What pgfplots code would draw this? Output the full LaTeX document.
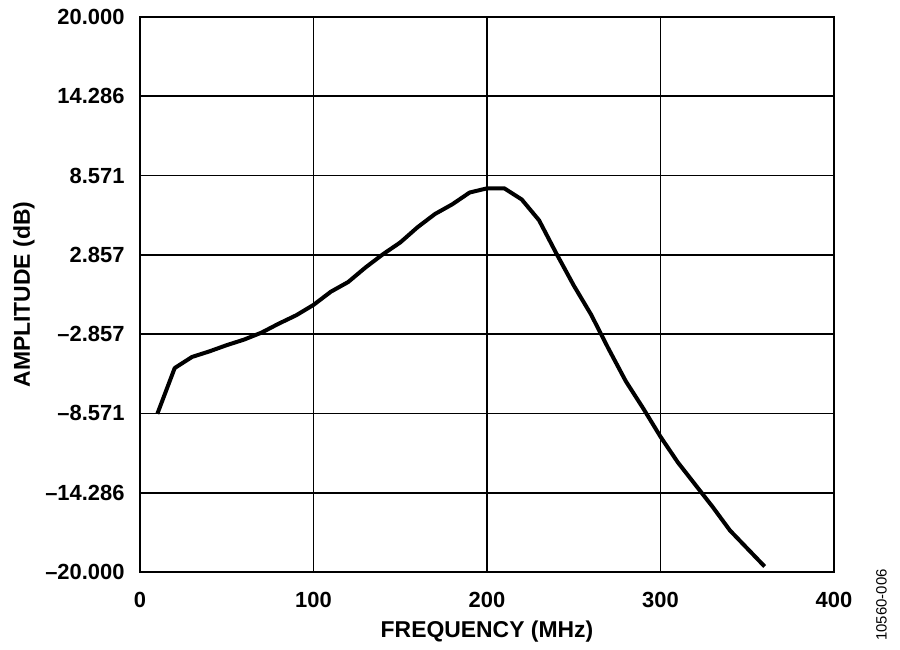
\documentclass[border=0pt]{standalone}
\usepackage{pgfplots}
\pgfplotsset{compat=1.18}
\usepackage{fontspec}
\setmainfont{Liberation Sans}
\begin{document}
\begin{tikzpicture}
\path[use as bounding box] (-140bp,-78bp) rectangle (760bp,572bp);
\begin{axis}[
  anchor=south west, at={(0,0)},
  scale only axis, width=694bp, height=555bp,
  xmin=0, xmax=400, ymin=-20, ymax=20,
  xtick={0,100,200,300,400},
  xticklabels={\textbf{0},\textbf{100},\textbf{200},\textbf{300},\textbf{400}},
  ytick={-20,-14.286,-8.571,-2.857,2.857,8.571,14.286,20},
  yticklabels={\textbf{–20.000},\textbf{–14.286},\textbf{–8.571},\textbf{–2.857},\textbf{2.857},\textbf{8.571},\textbf{14.286},\textbf{20.000}},
  tick label style={font=\bfseries\fontsize{22}{24}\selectfont},
  major tick length=0pt,
  grid=major,
  grid style={black, line width=1.8bp},
  axis line style={black, line width=2.2bp},
  xticklabel style={anchor=center, yshift=-28bp},
  yticklabel style={anchor=east, xshift=-12bp},
  clip=false,
]
\addplot[black, line width=4bp, line join=round] coordinates {
(10,-8.6) (20,-5.3) (30,-4.5) (40,-4.1) (50,-3.65) (60,-3.25) (70,-2.75)
(80,-2.1) (90,-1.5) (100,-0.75) (110,0.2) (120,0.9) (130,1.95) (140,2.9)
(150,3.75) (160,4.85) (170,5.8) (180,6.5) (190,7.35) (200,7.65) (210,7.65)
(220,6.85) (230,5.35) (240,2.95) (250,0.65) (260,-1.45) (270,-3.9)
(280,-6.25) (290,-8.2) (300,-10.25) (310,-12.1) (320,-13.7) (330,-15.3)
(340,-17.0) (350,-18.3) (360,-19.6)
};
\end{axis}
\node[font=\bfseries\fontsize{23}{25}\selectfont, inner sep=0pt] at (347bp,-60bp) {FREQUENCY (MHz)};
\node[rotate=90, font=\bfseries\fontsize{23}{25}\selectfont, inner sep=0pt] at (-116bp,277.5bp) {AMPLITUDE (dB)};
\node[rotate=90, font=\fontsize{15}{16}\selectfont, inner sep=0pt] at (741.5bp,-33bp) {10560-006};
\end{tikzpicture}
\end{document}
